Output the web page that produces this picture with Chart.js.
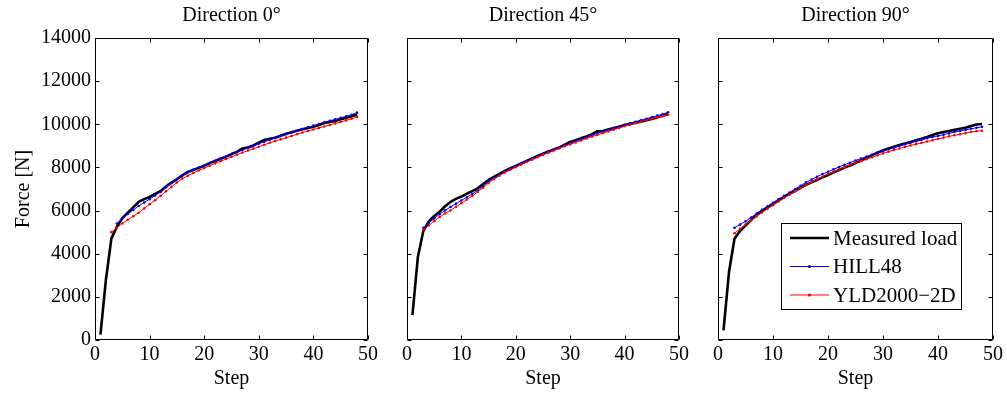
<!DOCTYPE html>
<html>
<head>
<meta charset="utf-8">
<script src="https://cdn.jsdelivr.net/npm/chart.js@4/dist/chart.umd.min.js"></script>
<style>
  html, body { margin: 0; padding: 0; background: #fff; }
  #wrap { position: relative; width: 1007px; height: 397px; overflow: hidden; }
  canvas { position: absolute; top: 0; }
</style>
</head>
<body>
<div id="wrap">
  <canvas id="c0" width="385" height="397" style="left:0px"></canvas>
  <canvas id="c45" width="307" height="397" style="left:390px"></canvas>
  <canvas id="c90" width="307" height="397" style="left:700px"></canvas>
</div>
<script>
// Loading steps
const steps = [1,2,3,4,5,6,7,8,9,10,11,12,13,14,15,16,17,18,19,20,21,22,23,24,25,26,27,28,29,30,31,32,33,34,35,36,37,38,39,40,41,42,43,44,45,46,47,48];

const xTicks = [0, 10, 20, 30, 40, 50];
const yTicks = [0, 2000, 4000, 6000, 8000, 10000, 12000, 14000];

const panelTitles = ['Direction 0\u00b0', 'Direction 45\u00b0', 'Direction 90\u00b0'];
const seriesNames = ['Measured load', 'HILL48', 'YLD2000\u22122D'];

// Direction 0°  (force in N per step; null = not simulated)
const measured0 = [250,2800,4700,5250,5650,5900,6150,6400,6530,6630,6770,6900,7120,7300,7450,7630,7790,7880,7980,8080,8200,8300,8400,8500,8620,8720,8880,8920,9020,9150,9270,9330,9380,9470,9560,9630,9700,9770,9830,9890,9960,10060,10110,10150,10230,10300,10370,10450];
const hill0 = [null,null,null,5400,5620,5840,6030,6210,6370,6530,6700,6860,7070,7270,7460,7640,7780,7900,8000,8090,8200,8310,8410,8510,8610,8710,8810,8910,9000,9100,9190,9280,9370,9460,9540,9620,9700,9780,9860,9940,10010,10090,10160,10230,10300,10370,10440,10540];
const yld0 = [null,null,5000,5200,5400,5570,5740,5900,6100,6290,6480,6680,6890,7100,7300,7480,7620,7740,7860,7970,8080,8190,8290,8390,8490,8590,8690,8780,8870,8960,9050,9140,9220,9300,9380,9460,9540,9620,9690,9760,9830,9900,9970,10040,10110,10180,10260,10340];

// Direction 45°
const measured45 = [1150,3850,5050,5500,5750,5950,6200,6400,6540,6650,6780,6900,7030,7230,7420,7560,7700,7840,7960,8070,8190,8300,8420,8530,8640,8740,8830,8930,9050,9180,9260,9350,9440,9540,9680,9690,9760,9830,9890,9970,10020,10070,10120,10190,10250,10320,10400,10480];
const hill45 = [null,null,5200,5420,5630,5830,6010,6170,6320,6470,6620,6770,6930,7130,7350,7520,7670,7810,7940,8060,8180,8300,8410,8520,8630,8730,8830,8930,9030,9130,9220,9310,9400,9490,9580,9660,9740,9820,9900,9980,10050,10120,10190,10260,10330,10400,10470,10560];
const yld45 = [null,null,5100,5310,5510,5700,5870,6000,6170,6340,6510,6680,6860,7060,7280,7460,7620,7760,7890,8010,8130,8250,8360,8470,8580,8680,8780,8880,8980,9070,9160,9250,9340,9430,9510,9590,9670,9750,9830,9910,9980,10050,10120,10190,10260,10320,10380,10440];

// Direction 90°
const measured90 = [450,3150,4700,5050,5300,5560,5800,5980,6150,6310,6470,6630,6770,6910,7050,7190,7310,7420,7540,7650,7770,7880,7990,8090,8200,8320,8440,8570,8680,8790,8880,8960,9040,9110,9180,9260,9330,9410,9500,9580,9640,9690,9740,9790,9840,9920,9990,10010];
const hill90 = [null,null,5200,5350,5500,5680,5860,6040,6200,6360,6520,6680,6840,7000,7150,7300,7440,7570,7690,7800,7910,8020,8120,8220,8320,8410,8500,8590,8680,8760,8840,8920,9000,9070,9140,9210,9280,9350,9410,9460,9520,9580,9640,9690,9740,9790,9840,9880];
const yld90 = [null,null,4950,5150,5350,5540,5730,5910,6080,6250,6420,6580,6740,6890,7040,7180,7320,7450,7570,7690,7800,7910,8010,8110,8200,8290,8380,8470,8560,8650,8730,8810,8880,8950,9020,9080,9140,9200,9260,9320,9380,9440,9490,9540,9590,9640,9680,9700];

const FONT = "'Liberation Serif', 'Times New Roman', serif";
const TICK_LEN = 4;

function pairs(values) {
  return steps.map((s, i) => ({ x: s, y: values[i] }));
}

// Boxed axes with inward tick marks on all four sides, plus the panel heading
const framePlugin = {
  id: 'frame',
  afterDatasetsDraw(chart, args, opts) {
    const { ctx, chartArea: a, scales } = chart;
    ctx.save();
    ctx.strokeStyle = '#000';
    ctx.lineWidth = 1;
    const L = Math.round(a.left) + 0.5, R = Math.round(a.right) - 0.5;
    const T = Math.round(a.top) + 0.5, B = Math.round(a.bottom) - 0.5;
    ctx.beginPath();
    ctx.rect(L, T, R - L, B - T);
    xTicks.forEach(v => {
      const px = Math.round(scales.x.getPixelForValue(v)) + 0.5;
      ctx.moveTo(px, B); ctx.lineTo(px, B - TICK_LEN);
      ctx.moveTo(px, T); ctx.lineTo(px, T + TICK_LEN);
    });
    yTicks.forEach(v => {
      const py = Math.round(scales.y.getPixelForValue(v)) + 0.5;
      ctx.moveTo(L, py); ctx.lineTo(L + TICK_LEN, py);
      ctx.moveTo(R, py); ctx.lineTo(R - TICK_LEN, py);
    });
    ctx.stroke();
    ctx.fillStyle = '#000';
    ctx.font = '20px ' + FONT;
    ctx.textAlign = 'center';
    ctx.textBaseline = 'middle';
    ctx.fillText(opts.title, (a.left + a.right) / 2, 16);
    ctx.restore();
  }
};

// Boxed legend drawn from the dataset styles
const boxLegendPlugin = {
  id: 'boxLegend',
  afterDraw(chart, args, opts) {
    if (!opts.show) return;
    const { ctx } = chart;
    const x0 = opts.x, y0 = opts.y, w = opts.w, h = opts.h;
    ctx.save();
    ctx.fillStyle = '#fff';
    ctx.fillRect(x0, y0, w, h);
    ctx.strokeStyle = '#000';
    ctx.lineWidth = 1;
    ctx.strokeRect(x0 + 0.5, y0 + 0.5, w - 1, h - 1);
    ctx.font = '21px ' + FONT;
    ctx.textBaseline = 'middle';
    ctx.textAlign = 'left';
    chart.data.datasets.forEach((ds, i) => {
      const cy = y0 + 15 + i * 28.5;
      ctx.strokeStyle = ds.borderColor;
      ctx.lineWidth = ds.borderWidth;
      ctx.beginPath();
      ctx.moveTo(x0 + 9, cy);
      ctx.lineTo(x0 + 48, cy);
      ctx.stroke();
      if (ds.pointRadius > 0) {
        ctx.fillStyle = ds.borderColor;
        ctx.beginPath();
        ctx.arc(x0 + 28.5, cy, 1.6, 0, Math.PI * 2);
        ctx.fill();
      }
      ctx.fillStyle = '#000';
      ctx.fillText(ds.label, x0 + 52, cy + 1);
    });
    ctx.restore();
  }
};

function makePanel(id, title, measured, hill, yld, cfg) {
  const datasets = [
    { label: seriesNames[0], data: pairs(measured), borderColor: '#000', borderWidth: 2.6,
      pointRadius: 0, order: 3 },
    { label: seriesNames[1], data: pairs(hill), borderColor: '#0000ff', borderWidth: 1,
      pointRadius: 1.3, pointBackgroundColor: '#0000ff', pointBorderWidth: 0, order: 2 },
    { label: seriesNames[2], data: pairs(yld), borderColor: '#ff0000', borderWidth: 1,
      pointRadius: 1.3, pointBackgroundColor: '#ff0000', pointBorderWidth: 0, order: 1 }
  ];
  return new Chart(document.getElementById(id), {
    type: 'line',
    data: { datasets },
    plugins: [framePlugin, boxLegendPlugin],
    options: {
      responsive: false,
      animation: false,
      devicePixelRatio: 1,
      spanGaps: false,
      layout: { padding: { top: 38, right: cfg.padRight, bottom: 0, left: 0 } },
      elements: { line: { tension: 0, borderCapStyle: 'butt', borderJoinStyle: 'round' } },
      plugins: {
        legend: { display: false },
        tooltip: { enabled: false },
        title: { display: false },
        frame: { title },
        boxLegend: cfg.legend || { show: false }
      },
      scales: {
        x: {
          type: 'linear', min: 0, max: 50,
          afterBuildTicks: s => { s.ticks = xTicks.map(v => ({ value: v })); },
          afterFit: s => { s.height = 57; },
          grid: { display: false, drawTicks: false },
          border: { display: false },
          ticks: { color: '#000', font: { family: FONT, size: 20 }, padding: 3, maxRotation: 0,
                   callback: v => String(v) },
          title: { display: true, text: 'Step', color: '#000', font: { family: FONT, size: 20 },
                   padding: { top: 0, bottom: 6 } }
        },
        y: {
          type: 'linear', min: 0, max: 14000,
          afterBuildTicks: s => { s.ticks = yTicks.map(v => ({ value: v })); },
          afterFit: s => { s.width = cfg.yWidth; },
          grid: { display: false, drawTicks: false },
          border: { display: false },
          ticks: { display: cfg.yLabels, color: '#000', font: { family: FONT, size: 20 }, padding: 4,
                   callback: v => String(v) },
          title: { display: cfg.yLabels, text: 'Force [N]', color: '#000',
                   font: { family: FONT, size: 20 }, padding: { top: 12, bottom: 0 } }
        }
      }
    }
  });
}

makePanel('c0', panelTitles[0], measured0, hill0, yld0, { yWidth: 95, padRight: 17, yLabels: true });
makePanel('c45', panelTitles[1], measured45, hill45, yld45, { yWidth: 17, padRight: 18, yLabels: false });
makePanel('c90', panelTitles[2], measured90, hill90, yld90, { yWidth: 18, padRight: 14, yLabels: false,
  legend: { show: true, x: 81, y: 223, w: 181, h: 87 } });
</script>
</body>
</html>
